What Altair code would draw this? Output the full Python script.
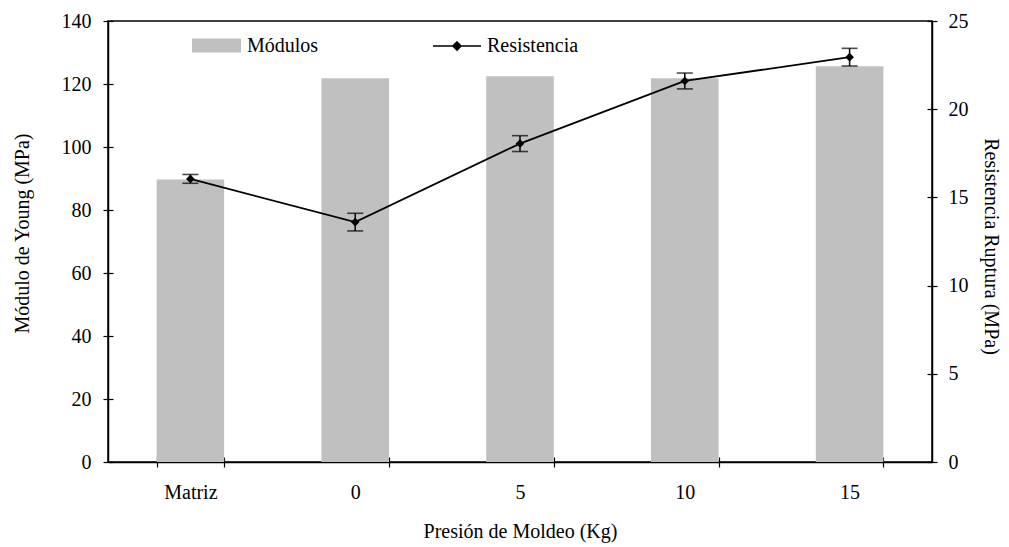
import altair as alt
import pandas as pd

# Categories on the x axis (molding pressure)
categorias = ["Matriz", "0", "5", "10", "15"]
# Young's modulus (MPa), left axis
modulo = [89.7, 121.8, 122.5, 121.8, 125.6]
# Rupture strength (MPa), right axis, with its error half-width
resistencia = [16.05, 13.6, 18.05, 21.6, 22.95]
error = [0.25, 0.5, 0.45, 0.45, 0.5]

ticks_izq = [0, 20, 40, 60, 80, 100, 120, 140]
ticks_der = [0, 5, 10, 15, 20, 25]

df = pd.DataFrame({
    "cat": categorias,
    "modulo": modulo,
    "res": resistencia,
    "lo": [r - e for r, e in zip(resistencia, error)],
    "hi": [r + e for r, e in zip(resistencia, error)],
    "serie_barra": ["Módulos"] * len(categorias),
    "serie_linea": ["Resistencia"] * len(categorias),
})

FONT = "Liberation Serif"
FS = 20
TICK = 5

x_scale = alt.Scale(paddingInner=0.59, paddingOuter=0.295)
y_scale_izq = alt.Scale(domain=[0, 140], nice=False)
y_scale_der = alt.Scale(domain=[0, 25], nice=False)
titulo_der = "Resistencia Ruptura (MPa)"

x_enc = alt.X(
    "cat:N",
    sort=categorias,
    title="Presión de Moldeo (Kg)",
    scale=x_scale,
    axis=alt.Axis(
        labelAngle=0, tickBand="extent", tickSize=TICK, labelPadding=15,
        titleY=69, titleBaseline="middle",
    ),
)

left_axis = alt.Axis(
    values=ticks_izq, tickSize=TICK, labelPadding=12, grid=False,
    titleX=-86, titleY=212, titleAlign="center", titleBaseline="middle",
)
right_axis = alt.Axis(
    values=ticks_der, orient="right", tickSize=TICK, labelPadding=11, grid=False,
    titleX=58, titleY=225, titleAlign="center", titleBaseline="middle",
)

bar_legend = alt.Legend(
    orient="none", legendX=84, legendY=0, title=None,
    symbolType="M-1,-0.29H1V0.29H-1Z", symbolSize=2401,
    symbolStrokeWidth=0, labelOffset=6,
)
line_legend = alt.Legend(
    orient="none", legendX=324, legendY=0, title=None,
    symbolType="M-1,0H1M0,-0.17L0.17,0L0,0.17L-0.17,0Z", symbolSize=2304,
    symbolStrokeWidth=1.5, symbolFillColor="black", symbolStrokeColor="black",
    labelOffset=5,
)

bars = alt.Chart(df).mark_bar(color="#C0C0C0").encode(
    x=x_enc,
    y=alt.Y("modulo:Q", title="Módulo de Young (MPa)",
            scale=y_scale_izq, axis=left_axis),
    color=alt.Color("serie_barra:N",
                    scale=alt.Scale(domain=["Módulos"], range=["#C0C0C0"]),
                    legend=bar_legend),
)

x_cat = alt.X("cat:N", sort=categorias)

linea = alt.Chart(df).mark_line(strokeWidth=1.8).encode(
    x=x_cat,
    y=alt.Y("res:Q", title=titulo_der, scale=y_scale_der, axis=right_axis),
    stroke=alt.Stroke("serie_linea:N",
                      scale=alt.Scale(domain=["Resistencia"], range=["black"]),
                      legend=line_legend),
)
puntos = alt.Chart(df).mark_point(shape="diamond", filled=True, color="black",
                                  size=75, opacity=1).encode(
    x=x_cat,
    y=alt.Y("res:Q", title=titulo_der, scale=y_scale_der, axis=right_axis),
)
barras_err = alt.Chart(df).mark_rule(color="black", strokeWidth=1.5).encode(
    x=x_cat,
    y=alt.Y("lo:Q", title=titulo_der, scale=y_scale_der, axis=right_axis),
    y2="hi:Q",
)
tapa_lo = alt.Chart(df).mark_tick(color="black", size=16, thickness=1.6).encode(
    x=x_cat,
    y=alt.Y("lo:Q", title=titulo_der, scale=y_scale_der, axis=right_axis),
)
tapa_hi = alt.Chart(df).mark_tick(color="black", size=16, thickness=1.6).encode(
    x=x_cat,
    y=alt.Y("hi:Q", title=titulo_der, scale=y_scale_der, axis=right_axis),
)

derecha = alt.layer(linea, barras_err, tapa_lo, tapa_hi, puntos)
principal = alt.layer(bars, derecha).resolve_scale(
    y="independent", color="independent", stroke="independent"
)

# Inner halves of the tick marks, so that ticks cross the axis lines
inner = dict(labels=False, domain=False, title=None, tickSize=TICK, offset=-TICK, grid=False)
ticks_in_izq = alt.Chart(df).mark_bar(opacity=0).encode(
    x=alt.X("cat:N", sort=categorias, scale=x_scale,
            axis=alt.Axis(orient="bottom", tickBand="extent", **inner)),
    y=alt.Y("modulo:Q", scale=y_scale_izq,
            axis=alt.Axis(orient="left", values=ticks_izq, **inner)),
)
ticks_in_der = alt.Chart(df).mark_point(opacity=0).encode(
    x=alt.X("cat:N", sort=categorias, scale=x_scale, axis=None),
    y=alt.Y("res:Q", scale=y_scale_der,
            axis=alt.Axis(orient="right", values=ticks_der, **inner)),
)

chart = alt.layer(principal, ticks_in_izq, ticks_in_der).resolve_scale(
    x="independent", y="independent"
).properties(
    width=824, height=441,
    background="white",
    autosize=alt.AutoSizeParams(type="none"),
    padding={"left": 108, "top": 21, "right": 77, "bottom": 85},
).configure_view(
    stroke="black", strokeWidth=1.5,
).configure_axis(
    labelFont=FONT, titleFont=FONT, labelFontSize=FS, titleFontSize=FS,
    labelColor="black", titleColor="black", titleFontWeight="normal",
    domainColor="black", tickColor="black", domainWidth=1.5, tickWidth=1.2,
).configure_legend(
    labelFont=FONT, labelFontSize=FS, labelColor="black",
)

chart.save("out.html", embed_options={"renderer": "svg", "actions": False})
